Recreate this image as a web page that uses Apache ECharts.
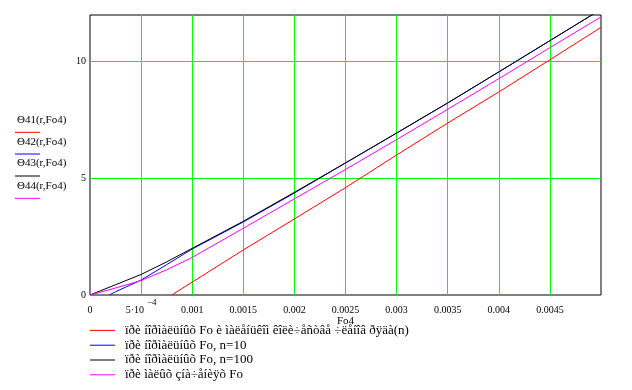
<!DOCTYPE html>
<html>
<head>
<meta charset="utf-8">
<script src="https://cdn.jsdelivr.net/npm/echarts@6/dist/echarts.min.js"></script>
<style>html,body{margin:0;padding:0;background:#fff}#c{width:632px;height:390px}</style>
</head>
<body>
<div id="c"></div>
<script>
// Fo4 values (x) and Θ values (y)
const foRed = [0.0008, 0.0015, 0.002, 0.0025, 0.003, 0.0035, 0.004, 0.0045, 0.005];
const thetaRed = [0, 1.93, 3.26, 4.6, 6.0, 7.37, 8.7, 10.08, 11.47];

const foN10 = [0.00019, 0.00025, 0.0005, 0.00075, 0.001, 0.0015, 0.002, 0.0025, 0.003, 0.0035, 0.004, 0.0045, 0.005];
const thetaN10 = [0, 0.14, 0.64, 1.3, 1.97, 3.13, 4.37, 5.66, 6.94, 8.23, 9.56, 10.9, 12.24];

const foN100 = [0, 0.00025, 0.0005, 0.00075, 0.001, 0.0015, 0.002, 0.0025, 0.003, 0.0035, 0.004, 0.0045, 0.005];
const thetaN100 = [0, 0.44, 0.88, 1.42, 2.0, 3.16, 4.4, 5.66, 6.94, 8.23, 9.56, 10.9, 12.24];

const foZero = [0, 0.00025, 0.0005, 0.00075, 0.001, 0.0015, 0.002, 0.0025, 0.003, 0.0035, 0.004, 0.0045, 0.005];
const thetaZero = [0, 0.3, 0.62, 1.08, 1.61, 2.86, 4.12, 5.38, 6.66, 7.96, 9.27, 10.6, 11.92];

const seriesNames = [
  'ïðè íîðìàëüíûõ Fo è ìàëåíüêîì êîëè÷åñòâå ÷ëåíîâ ðÿäà(n)',
  'ïðè íîðìàëüíûõ Fo, n=10',
  'ïðè íîðìàëüíûõ Fo, n=100',
  'ïðè ìàëûõ çíà÷åíèÿõ Fo'
];
const traceLabels = ['Θ41(r,Fo4)', 'Θ42(r,Fo4)', 'Θ43(r,Fo4)', 'Θ44(r,Fo4)'];
const colors = ['#ff0000', '#0000ff', '#000000', '#ff00ff'];
const xTickLabelSup = ['5·10', '−4'];

const FONT = '"Liberation Serif", "Times New Roman", serif';
const pairs = (xs, ys) => xs.map((x, i) => [x, ys[i]]);

const chart = echarts.init(document.getElementById('c'), null, {renderer: 'canvas'});

const leftGraphics = [];
const textY = [120.7, 143.3, 164.3, 186.7];
const lineY = [132.3, 154, 176, 198.3];
traceLabels.forEach((t, i) => {
  leftGraphics.push({type: 'text', left: 17, top: textY[i] - 6.5,
    style: {text: t, font: '11px ' + FONT, fill: '#000'}});
  leftGraphics.push({type: 'line', shape: {x1: 15, y1: lineY[i], x2: 40, y2: lineY[i]},
    style: {stroke: colors[i], lineWidth: 1}});
});

chart.setOption({
  animation: false,
  color: colors,
  grid: {left: 90, top: 15, width: 511, height: 280, show: true, borderColor: '#000', borderWidth: 1, backgroundColor: 'transparent'},
  xAxis: {
    type: 'value', min: 0, max: 0.005, interval: 0.0005,
    name: 'Fo4', nameLocation: 'middle', nameGap: 21, nameMoveOverlap: false,
    nameTextStyle: {fontFamily: FONT, fontSize: 11, color: '#000'},
    axisLine: {show: false}, axisTick: {show: false},
    splitLine: {show: true, showMinLine: false, showMaxLine: false, lineStyle: {color: '#00ff00', width: 1}},
    axisLabel: {
      margin: 3, color: '#000', fontFamily: FONT, fontSize: 10, lineHeight: 25, showMaxLabel: false,
      formatter: function (v) {
        const r = Math.round(v * 1e5) / 1e5;
        if (r === 0) return '0';
        if (Math.abs(r - 0.0005) < 1e-9) return '{n|' + xTickLabelSup[0] + '}{s|' + xTickLabelSup[1] + '}';
        if (Math.abs(r - 0.005) < 1e-9) return '';
        return String(r);
      },
      rich: {
        n: {fontFamily: FONT, fontSize: 10, color: '#000', lineHeight: 25},
        s: {fontFamily: FONT, fontSize: 9, color: '#000', lineHeight: 9, verticalAlign: 'top', padding: [0, 0, 0, 3]}
      }
    }
  },
  yAxis: {
    type: 'value', min: 0, max: 12, interval: 5,
    axisLine: {show: false}, axisTick: {show: false},
    splitLine: {show: true, showMinLine: false, showMaxLine: false, lineStyle: {color: '#00ff00', width: 1}},
    axisLabel: {
      margin: 4, color: '#000', fontFamily: FONT, fontSize: 10, showMaxLabel: false,
      formatter: function (v) { return v === 12 ? '' : String(v); }
    }
  },
  legend: {
    orient: 'vertical', left: 90, top: 323, itemGap: 0, padding: 0, height: 67,
    itemWidth: 25, itemHeight: 1, icon: 'rect',
    textStyle: {fontFamily: FONT, fontSize: 13, color: '#000', lineHeight: 14.8, padding: [0, 0, 0, 5]},
    data: seriesNames
  },
  graphic: leftGraphics,
  series: [
    {name: seriesNames[0], type: 'line', data: pairs(foRed, thetaRed), showSymbol: false, symbol: 'none', lineStyle: {width: 1, color: colors[0]}},
    {name: seriesNames[1], type: 'line', data: pairs(foN10, thetaN10), showSymbol: false, symbol: 'none', lineStyle: {width: 1, color: colors[1]}},
    {name: seriesNames[2], type: 'line', data: pairs(foN100, thetaN100), showSymbol: false, symbol: 'none', lineStyle: {width: 1, color: colors[2]}},
    {name: seriesNames[3], type: 'line', data: pairs(foZero, thetaZero), showSymbol: false, symbol: 'none', lineStyle: {width: 1, color: colors[3]}}
  ]
});
</script>
</body>
</html>
